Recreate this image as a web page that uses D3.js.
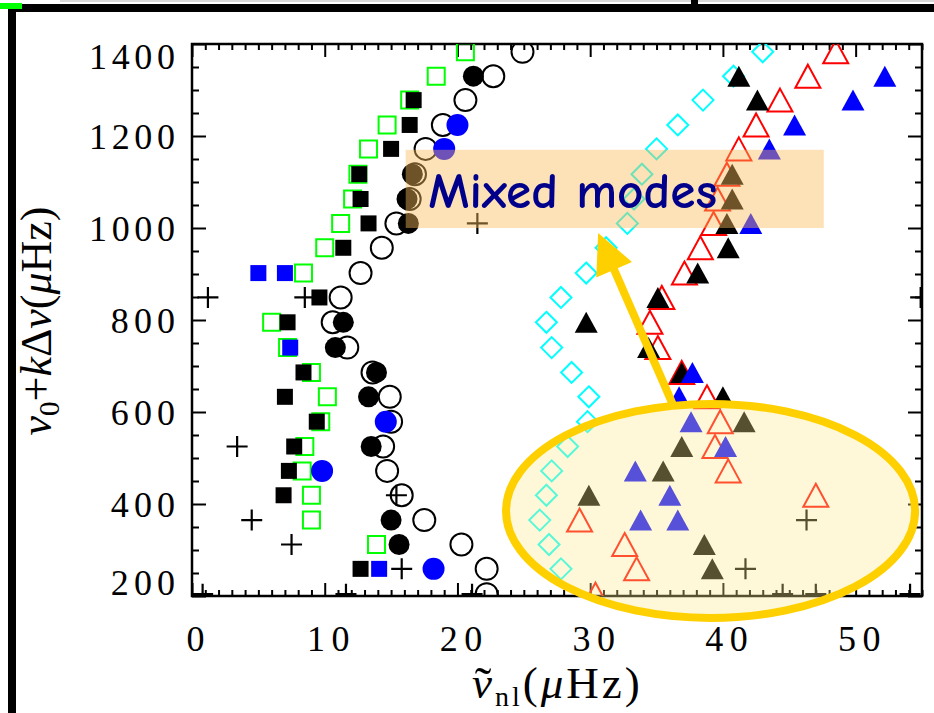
<!DOCTYPE html>
<html>
<head>
<meta charset="utf-8">
<script src="https://cdn.jsdelivr.net/npm/d3@7"></script>
<style>
  html, body { margin: 0; padding: 0; background: #fff; }
  svg { display: block; }
  .serif { font-family: "Liberation Serif", "DejaVu Serif", serif; }
</style>
</head>
<body>
<svg id="chart" width="934" height="713"></svg>
<script>
// Echelle diagram: reduced frequency (x) against nu0 + k*Delta-nu (y)

// ---- data: [reduced frequency (µHz), nu0 + k Δnu (µHz)] ----
const greenOpenSquares = [[20.6,1383],[18.4,1330],[16.4,1278],[14.7,1224],[13.3,1172],[12.5,1117],[12.1,1063],[11.2,1010],[10.0,957],[8.4,902],[6.0,795],[7.2,740],[9.0,686],[10.2,633],[9.7,579],[8.5,525],[8.3,472],[9.0,419],[9.0,365],[13.9,312]];
const blackSquares = [[16.7,1278],[16.4,1224],[15.0,1172],[12.6,1117],[12.7,1063],[13.3,1010],[11.4,957],[9.6,849],[7.2,795],[8.4,686],[7.0,633],[9.4,579],[7.7,525],[7.3,472],[6.9,419],[12.7,259]];
const blueSquares = [[5.0,902],[7.0,902],[7.4,740],[14.1,259]];
const openCircles = [[24.9,1383],[22.7,1330],[20.6,1278],[18.9,1224],[17.6,1172],[16.8,1117],[16.4,1063],[15.4,1010],[14.3,957],[12.7,902],[11.2,849],[10.6,795],[11.7,740],[13.6,686],[14.9,633],[15.0,579],[14.4,525],[14.7,472],[15.8,419],[17.5,365],[20.3,312],[22.2,259],[22.2,204]];
const blackCircles = [[21.2,1330],[16.6,1117],[16.2,1063],[16.3,1010],[11.4,795],[10.8,740],[13.9,686],[13.3,633],[13.5,525],[15.0,365],[15.6,312]];
const blueCircles = [[20.0,1224],[19.0,1172],[14.6,579],[9.8,472],[18.2,259]];
const crosses = [[1.2,849],[8.5,849],[54.9,849],[21.5,1010],[3.4,525],[15.4,419],[4.5,365],[7.5,312],[15.8,259],[46.3,365],[41.7,259],[0.8,204],[11.6,204],[21.1,204],[44.5,204],[47.0,204],[54.1,204]];
const cyanDiamonds = [[43.0,1383],[40.8,1330],[38.5,1278],[36.6,1224],[35.0,1172],[33.9,1117],[33.3,1063],[32.8,1010],[31.2,957],[29.7,902],[27.8,849],[26.7,795],[27.1,740],[28.6,686],[29.9,633],[29.8,579],[28.3,525],[27.1,472],[26.7,419],[26.2,365],[26.9,312],[27.8,259]];
const redOpenTriangles = [[48.5,1383],[46.4,1330],[44.3,1278],[42.5,1224],[41.2,1172],[40.3,1117],[39.6,1063],[39.3,1010],[38.3,957],[37.1,902],[35.4,849],[34.5,795],[35.1,740],[36.9,686],[38.8,633],[39.8,579],[39.4,525],[40.4,472],[47.0,419],[29.2,365],[32.6,312],[33.5,259],[30.4,204]];
const blackTriangles = [[41.2,1330],[42.6,1278],[40.7,1117],[40.7,1063],[40.3,1010],[40.4,957],[38.1,902],[35.1,849],[29.7,795],[34.4,740],[36.9,686],[40.0,633],[41.6,579],[36.9,525],[35.5,472],[29.9,419],[38.6,312],[39.2,259]];
const blueTriangles = [[52.2,1330],[49.8,1278],[45.4,1224],[43.5,1172],[42.1,1010],[37.7,686],[36.7,633],[37.6,579],[40.2,525],[33.4,472],[36.0,419],[33.8,365],[36.6,365]];

// axis ticks and labels
const xMajorTicks = [0, 10, 20, 30, 40, 50];
const xMinorTicks = d3.range(0, 56).filter(v => v % 10 !== 0);
const yMajorTicks = [200, 400, 600, 800, 1000, 1200, 1400];
const yMinorTicks = d3.range(200, 1401, 50).filter(v => v % 200 !== 0);

// annotations (data coordinates)
const mixedBox = { x0: 16.1, x1: 47.6, y0: 1000, y1: 1170 };
const mixedLabel = { text: "Mixed modes", x: 17.8, y: 1043 };
const lowRegion = { cx: 39.07, cy: 385, rx: 15.41, ry: 232.6 };
const arrowFrom = [36.25, 615];
const arrowTo = [30.6, 989];

// ---- layout ----
const svg = d3.select("#chart");
const x = d3.scaleLinear().domain([0, 55]).range([192, 922]);
const y = d3.scaleLinear().domain([200, 1400]).range([596, 44]);
const [X0, X1] = x.range();
const [Y0, Y1] = [y(1400), y(200)];

// slide border pieces around the figure
svg.append("rect").attr("x", 60).attr("y", 0).attr("width", 874).attr("height", 2).attr("fill", "#d8d8d8");
svg.append("rect").attr("x", 8).attr("y", 4).attr("width", 926).attr("height", 8).attr("fill", "#000");
svg.append("rect").attr("x", 8).attr("y", 4).attr("width", 8).attr("height", 709).attr("fill", "#000");
svg.append("rect").attr("x", 691).attr("y", 0).attr("width", 7).attr("height", 5).attr("fill", "#000");
svg.append("rect").attr("x", 0).attr("y", 3).attr("width", 22).attr("height", 6).attr("fill", "#00ff00");

// ---- axes ----
const axG = svg.append("g").attr("class", "axes");
function tickAxis(axis, tx, ty) {
  const g = axG.append("g").attr("transform", `translate(${tx},${ty})`).call(axis);
  g.select(".domain").remove();
  g.selectAll(".tick line").attr("stroke", "#000").attr("stroke-width", 2);
  g.selectAll(".tick text").remove();
  return g;
}
tickAxis(d3.axisTop(x).tickValues(xMajorTicks).tickSize(13), 0, Y1);
tickAxis(d3.axisTop(x).tickValues(xMinorTicks).tickSize(6), 0, Y1);
tickAxis(d3.axisBottom(x).tickValues(xMajorTicks).tickSize(13), 0, Y0);
tickAxis(d3.axisBottom(x).tickValues(xMinorTicks).tickSize(6), 0, Y0);
tickAxis(d3.axisRight(y).tickValues(yMajorTicks).tickSize(14), X0, 0);
tickAxis(d3.axisRight(y).tickValues(yMinorTicks).tickSize(7), X0, 0);
tickAxis(d3.axisLeft(y).tickValues(yMajorTicks).tickSize(14), X1, 0);
tickAxis(d3.axisLeft(y).tickValues(yMinorTicks).tickSize(7), X1, 0);

axG.append("rect").attr("x", X0).attr("y", Y0).attr("width", X1 - X0).attr("height", Y1 - Y0)
  .attr("fill", "none").attr("stroke", "#000").attr("stroke-width", 2.5);

function styleLabels(g) {
  g.attr("font-family", null).attr("font-size", null);
  g.select(".domain").remove();
  g.selectAll(".tick line").remove();
  g.selectAll(".tick text")
    .attr("class", "serif").style("font-size", "36px").attr("fill", "#000")
    .each(function () {
      const n = this.textContent.length;
      if (n > 1) d3.select(this).attr("textLength", n * 21.75 - 1).attr("lengthAdjust", "spacing");
    });
}
const xLab = axG.append("g").attr("transform", `translate(0,${Y1})`)
  .call(d3.axisBottom(x).tickValues(xMajorTicks).tickSize(0).tickPadding(29).tickFormat(d3.format("d")));
styleLabels(xLab);
xLab.selectAll(".tick text").attr("dx", 3);

const yLab = axG.append("g").attr("transform", `translate(${X0},0)`)
  .call(d3.axisLeft(y).tickValues(yMajorTicks).tickSize(0).tickPadding(17).tickFormat(d3.format("d")));
styleLabels(yLab);
yLab.selectAll(".tick text").attr("dy", d => d === 1400 ? "0.68em" : d === 200 ? "-0.05em" : "0.36em");

// axis titles: x title is ν-tilde with subscript nl
const xt = svg.append("text").attr("class", "serif").attr("x", 472).attr("y", 698)
  .style("font-size", "45px").style("letter-spacing", "3px").attr("text-anchor", "start");
const tNu = xt.append("tspan").attr("font-style", "italic").text("ν");
const tTilde = xt.append("tspan").style("font-size", "50px").attr("dy", 4).text("˜");
const tSub = xt.append("tspan").style("font-size", "28px").attr("dy", 4).text("nl");
xt.append("tspan").attr("dy", -8).text("(");
xt.append("tspan").attr("font-style", "italic").text("μ");
xt.append("tspan").text("Hz)");
{
  const node = xt.node();
  const nuS = node.getStartPositionOfChar(0).x, nuE = node.getEndPositionOfChar(0).x;
  const tS = node.getStartPositionOfChar(1).x, tE = node.getEndPositionOfChar(1).x;
  tTilde.attr("x", (nuS + nuE) / 2 - (tE - tS) / 2 + 1);
  tSub.attr("x", nuE);
}

const yt = svg.append("text").attr("class", "serif").attr("transform", "translate(51,321) rotate(-90)")
  .style("font-size", "44px").attr("text-anchor", "middle");
yt.append("tspan").attr("font-style", "italic").text("ν");
yt.append("tspan").style("font-size", "29px").attr("dy", 8).text("0");
yt.append("tspan").attr("dy", -8).text("+");
yt.append("tspan").attr("font-style", "italic").text("k");
yt.append("tspan").text("Δ");
yt.append("tspan").attr("font-style", "italic").text("ν");
yt.append("tspan").text("(");
yt.append("tspan").attr("font-style", "italic").text("μ");
yt.append("tspan").text("Hz)");

// ---- markers (clipped to the plot box) ----
svg.append("clipPath").attr("id", "plotClip").append("rect")
  .attr("x", X0).attr("y", Y0).attr("width", X1 - X0).attr("height", Y1 - Y0);
const marks = svg.append("g").attr("clip-path", "url(#plotClip)");

const squarePath = s => `M${-s / 2},${-s / 2}h${s}v${s}h${-s}Z`;
const plusPath = s => `M${-s / 2},0H${s / 2}M0,${-s / 2}V${s / 2}`;
const diamondPath = s => `M0,${-s}L${s},0L0,${s}L${-s},0Z`;
const trianglePath = (w, h) => `M0,${-h / 2}L${w / 2},${h / 2}L${-w / 2},${h / 2}Z`;

function drawPaths(data, d, fill, stroke, sw) {
  marks.append("g").selectAll("path").data(data).join("path")
    .attr("transform", p => `translate(${x(p[0])},${y(p[1])})`)
    .attr("d", d).attr("fill", fill).attr("stroke", stroke).attr("stroke-width", sw);
}
function drawCircles(data, r, fill, stroke, sw) {
  marks.append("g").selectAll("circle").data(data).join("circle")
    .attr("cx", p => x(p[0])).attr("cy", p => y(p[1])).attr("r", r)
    .attr("fill", fill).attr("stroke", stroke).attr("stroke-width", sw);
}

drawPaths(greenOpenSquares, squarePath(17), "none", "#00ff00", 2);
drawPaths(blackSquares, squarePath(16), "#000", "none", 0);
drawPaths(blueSquares, squarePath(16), "#0000ff", "none", 0);
drawCircles(openCircles, 11, "none", "#000", 2);
drawCircles(blackCircles, 10.5, "#000", "none", 0);
drawCircles(blueCircles, 11, "#0000ff", "none", 0);
drawPaths(crosses, plusPath(21), "none", "#000", 2.2);
drawPaths(cyanDiamonds, diamondPath(10.5), "none", "#00ffff", 2);
drawPaths(redOpenTriangles, trianglePath(25, 23), "none", "#ff0000", 2);
drawPaths(blackTriangles, trianglePath(23, 21), "#000", "none", 0);
drawPaths(blueTriangles, trianglePath(23, 21), "#0000ff", "none", 0);

// ---- annotations ----
const ann = svg.append("g");
ann.append("rect")
  .attr("x", x(mixedBox.x0)).attr("y", y(mixedBox.y1))
  .attr("width", x(mixedBox.x1) - x(mixedBox.x0)).attr("height", y(mixedBox.y0) - y(mixedBox.y1))
  .attr("fill", "rgb(250,186,91)").attr("fill-opacity", 0.44);
ann.append("text").attr("x", x(mixedLabel.x)).attr("y", y(mixedLabel.y))
  .attr("font-family", "'Comic Sans MS', 'Comic Neue', Lato, sans-serif")
  .attr("font-size", 50).attr("font-weight", "bold").attr("fill", "#00008b")
  .attr("textLength", 289).attr("lengthAdjust", "spacingAndGlyphs")
  .text(mixedLabel.text);

const ecx = x(lowRegion.cx), ecy = y(lowRegion.cy);
const erx = x(lowRegion.cx + lowRegion.rx) - ecx, ery = y(lowRegion.cy - lowRegion.ry) - ecy;
ann.append("ellipse").attr("cx", ecx).attr("cy", ecy).attr("rx", erx).attr("ry", ery)
  .attr("fill", "rgb(255,235,141)").attr("fill-opacity", 0.34);
ann.append("ellipse").attr("cx", ecx).attr("cy", ecy).attr("rx", erx).attr("ry", ery)
  .attr("fill", "none").attr("stroke", "#ffd000").attr("stroke-width", 8);

// arrow from the low-frequency region to the mixed-mode band
const ax0 = x(arrowFrom[0]), ay0 = y(arrowFrom[1]);
const ax1 = x(arrowTo[0]), ay1 = y(arrowTo[1]);
const len = Math.hypot(ax1 - ax0, ay1 - ay0);
const ux = (ax1 - ax0) / len, uy = (ay1 - ay0) / len;
const headLen = 40, headHalf = 19.5;
const bx = ax1 - ux * headLen, by = ay1 - uy * headLen;
ann.append("line").attr("x1", ax0).attr("y1", ay0).attr("x2", bx + ux * 2).attr("y2", by + uy * 2)
  .attr("stroke", "#ffd000").attr("stroke-width", 8);
ann.append("path")
  .attr("d", `M${ax1},${ay1}L${bx - uy * headHalf},${by + ux * headHalf}L${bx + uy * headHalf},${by - ux * headHalf}Z`)
  .attr("fill", "#ffd000");
</script>
</body>
</html>
